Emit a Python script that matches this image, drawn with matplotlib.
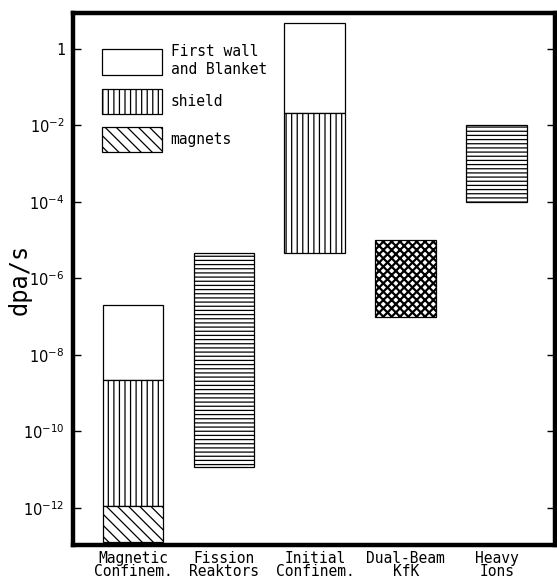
import numpy as np
import matplotlib
matplotlib.use('Agg')
import matplotlib.pyplot as plt
from matplotlib.patches import Patch

plt.rcParams['font.family'] = 'DejaVu Sans Mono'
plt.rcParams['hatch.linewidth'] = 0.9

# facilities on the x axis
categories = ['Magnetic\nConfinem.', 'Fission\nReaktors', 'Initial\nConfinem.', 'Dual-Beam\nKfK', 'Heavy\nIons']

# damage rate ranges (dpa/s), each segment = (bottom, top)
first_wall = {0: (2.2e-9, 2e-7), 2: (2.1e-2, 4.9)}
shield = {0: (1.15e-12, 2.2e-9), 2: (4.5e-6, 2.1e-2)}
magnets = {0: (1.3e-13, 1.15e-12)}
fission = {1: (1.2e-11, 4.5e-6)}
dual_beam = {3: (1e-7, 1e-5)}
heavy_ions = {4: (1e-4, 1e-2)}

yticks = [1, 1e-2, 1e-4, 1e-6, 1e-8, 1e-10, 1e-12]
ytick_labels = ['1', r'$10^{-2}$', r'$10^{-4}$', r'$10^{-6}$', r'$10^{-8}$', r'$10^{-10}$', r'$10^{-12}$']

fig = plt.figure(figsize=(5.57, 5.83), dpi=100)
ax = fig.add_axes([73 / 557, 1 - 545 / 583, 482 / 557, 532 / 583])
ax.set_yscale('log')

w = 0.67


def draw(seg, hatch, **kw):
    for x, (lo, hi) in seg.items():
        ax.bar(x, hi - lo, bottom=lo, width=w, facecolor='white', edgecolor='black',
               linewidth=0.9, hatch=hatch, **kw)


draw(first_wall, None)
draw(shield, '|||')
draw(magnets, '\\\\\\')
draw(fission, '----')
draw(heavy_ions, '----')
draw(dual_beam, 'xxxx', hatch_linewidth=1.6)

ax.set_xlim(-0.66, 4.64)
ax.set_ylim(10 ** -12.97, 10 ** 0.94)
ax.set_xticks(range(len(categories)))
ax.set_xticklabels(categories, fontsize=10.5, linespacing=0.9)
ax.tick_params(axis='x', length=0, pad=4)
ax.set_yticks(yticks)
ax.set_yticklabels(ytick_labels, fontsize=10.5)
ax.yaxis.set_minor_locator(matplotlib.ticker.NullLocator())
ax.tick_params(axis='y', direction='in', length=6, width=1, right=True, pad=6)
for s in ax.spines.values():
    s.set_linewidth(3.2)
ax.set_ylabel('dpa/s', fontsize=17)
ax.yaxis.set_label_coords(-0.085, 0.5)

handles = [Patch(facecolor='white', edgecolor='black', linewidth=0.9),
           Patch(facecolor='white', edgecolor='black', linewidth=0.9, hatch='|||'),
           Patch(facecolor='white', edgecolor='black', linewidth=0.9, hatch='\\\\\\')]
ax.legend(handles, ['First wall\nand Blanket', 'shield', 'magnets'], loc='upper left',
          bbox_to_anchor=(0.045, 0.955), frameon=False, fontsize=10.5, borderpad=0,
          handlelength=4.1, handleheight=2.3, labelspacing=0.85, handletextpad=0.6)

fig.savefig('out.png', dpi=100)
